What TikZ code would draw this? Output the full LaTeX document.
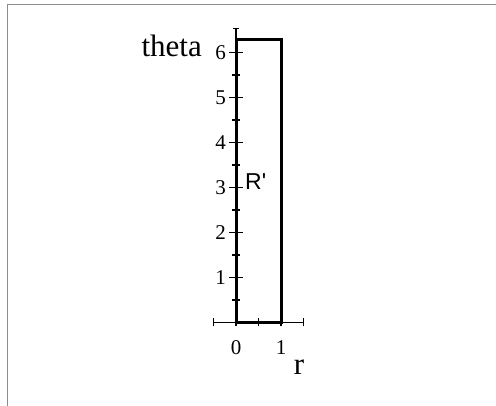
\documentclass[tikz,border=0pt]{standalone}
\usepackage{fontspec}
\setmainfont{Liberation Serif}
\setsansfont{Liberation Sans}
\tikzset{
  axisline/.style={line width=1.6pt, black},
  tickline/.style={line width=1.3pt, black},
  regionline/.style={line width=3pt, black, line join=miter},
  ticklabel/.style={font=\fontsize{21}{21}\selectfont, inner sep=0pt},
  axislabel/.style={font=\fontsize{31}{31}\selectfont, inner sep=0pt},
  regionlabel/.style={font=\sffamily\fontsize{23}{23}\selectfont, inner sep=0pt}
}
\begin{document}
\begin{tikzpicture}[x=1pt,y=1pt]
\useasboundingbox (0,0) rectangle (496,406);
\draw[line width=1.3pt, gray!90] (7.3,0) -- (7.3,401.7) -- (496,401.7);
\begin{scope}[shift={(236,83.5)}, x=45pt, y=45pt]
  % axes
  \draw[axisline] (-0.5,0) -- (1.5,0);
  \draw[axisline] (0,0) -- (0,6.54);
  % x ticks
  \foreach \t in {-0.5,0,0.5,1,1.5}
    \draw[tickline] (\t,0) ++(0,-4pt) -- ++(0,8pt);
  % y ticks
  \foreach \t in {1,...,6}
    \draw[tickline] (0,\t) ++(-7pt,0) -- ++(14pt,0);
  \foreach \t in {0.5,1.5,...,5.5}
    \draw[tickline] (0,\t) ++(-4pt,0) -- ++(8pt,0);
  \draw[tickline] (0,6.54) ++(-3pt,0) -- ++(6pt,0);
  % region
  \draw[regionline] (0,0) -- (1,0) -- (1,6.2832) -- (0,6.2832) -- cycle;
  % labels
  \foreach \t in {1,...,6}
    \node[ticklabel, anchor=base east] (yl\t) at ([xshift=-10pt,yshift=-7pt]0,\t) {\t};
  \node[ticklabel, anchor=base] (xl0) at ([yshift=-32.5pt]0,0) {0};
  \node[ticklabel, anchor=base] (xl1) at ([yshift=-32.5pt]1,0) {1};
  \node[axislabel, anchor=base east] (thetalab) at ([xshift=-34pt,yshift=-4.2pt]0,6) {theta};
  \node[axislabel, anchor=base] (rlab) at ([xshift=18pt,yshift=-52.5pt]1,0) {r};
  \node[regionlabel, anchor=base west] (rp) at ([xshift=9pt,yshift=-1.8pt]0,3) {R\textquotesingle};
\end{scope}
\end{tikzpicture}
\end{document}
